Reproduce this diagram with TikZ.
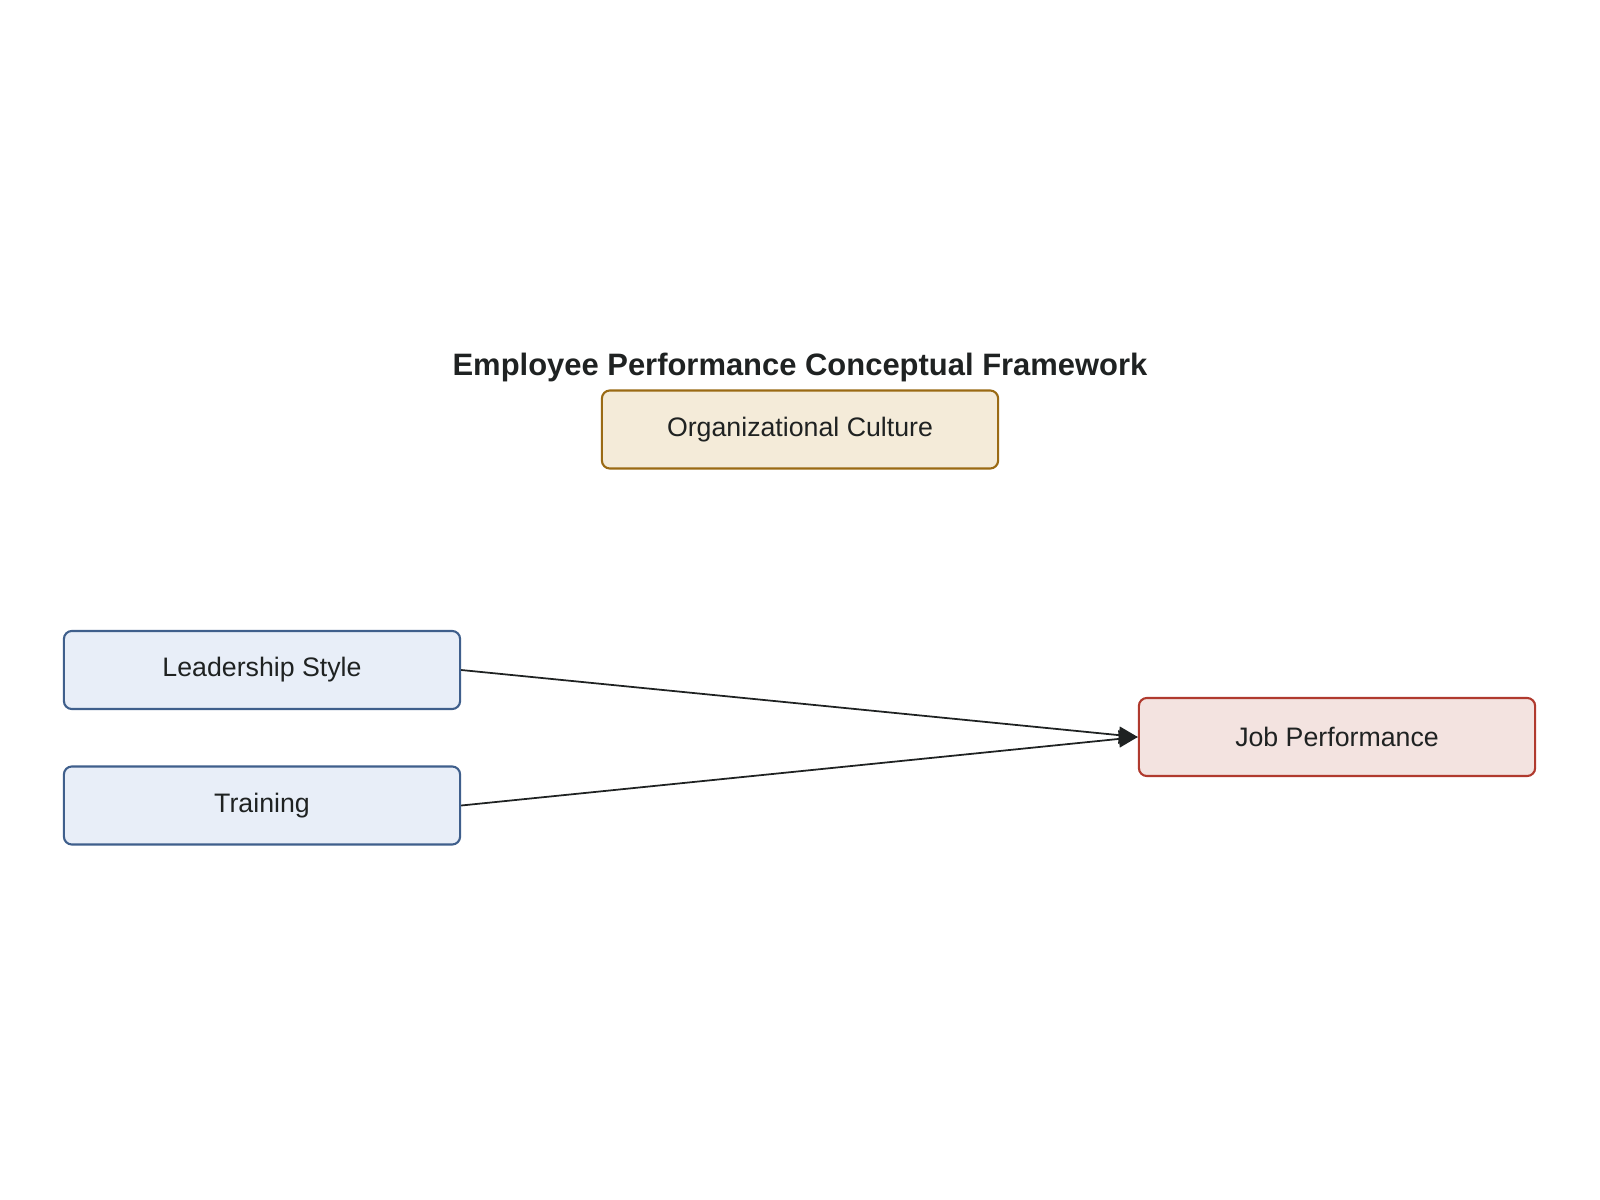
\documentclass[tikz,border=0pt]{standalone}
\usepackage{fontspec}
\setmainfont{Liberation Sans}
\usepackage{tikz}
\usetikzlibrary{arrows.meta}
\usetikzlibrary{positioning}
\usepackage{xcolor}
\definecolor{culturefill}{HTML}{F4EBD9}
\definecolor{cultureline}{HTML}{9A6A14}
\definecolor{inputfill}{HTML}{E8EEF8}
\definecolor{inputline}{HTML}{3F5F8C}
\definecolor{outputfill}{HTML}{F3E3E0}
\definecolor{outputline}{HTML}{B03A2E}
\definecolor{ink}{HTML}{1F2222}

\begin{document}
\begin{tikzpicture}[x=0.01cm,y=-0.01cm,
		box/.style={rectangle,rounded corners=0.08cm,line width=0.6pt,minimum width=3.96cm,minimum height=0.78cm,font=\fontsize{7.6}{9}\selectfont,text=ink},
		culture/.style={box,fill=culturefill,draw=cultureline},
		factor/.style={box,fill=inputfill,draw=inputline},
		outcome/.style={box,fill=outputfill,draw=outputline},
		link/.style={ink,line width=0.5pt,-{Triangle[length=0.19cm,width=0.17cm]}}]
		\useasboundingbox (0,0) rectangle (1600,1200);
		\node[font=\bfseries\fontsize{8.8}{10}\selectfont,text=ink] (title) at (800, 367) {Employee Performance Conceptual Framework};
		\node[culture] (culture) at (800, 429.5) {Organizational Culture};
		\node[factor] (leader) at (262, 670) {Leadership Style};
		\node[factor] (train) at (262, 805.5) {Training};
		\node[outcome] (perf) at (1337, 737) {Job Performance};
		\draw[link] (leader.east) to (perf.west);
		\draw[link] (train.east) to (perf.west);
\end{tikzpicture}
\end{document}
